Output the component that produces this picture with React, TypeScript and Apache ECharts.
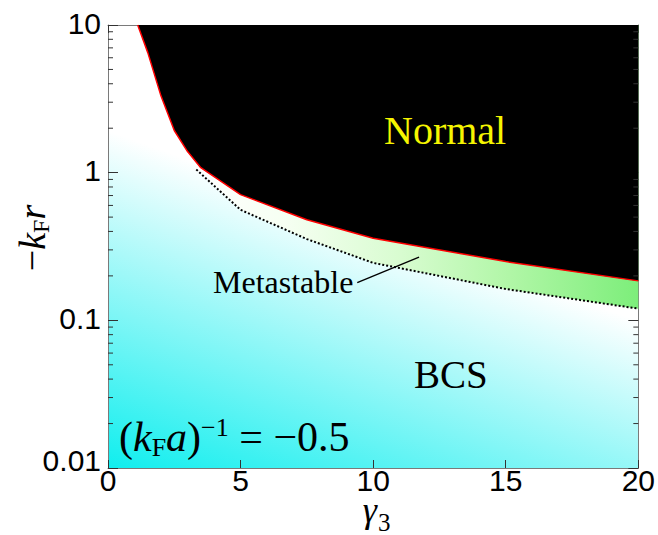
import React, { useEffect, useRef } from 'react';
import * as echarts from 'echarts';

// Phase boundary (Normal / metastable upper edge, red line)
const normalX = [1.12, 1.5, 2, 2.5, 3, 3.5, 5, 7.5, 10, 15, 20];
const normalY = [10, 6.5, 3.3, 1.93, 1.39, 1.08, 0.71, 0.48, 0.36, 0.25, 0.185];
// Metastable lower edge (dotted line)
const metaX = [3.33, 5, 7.5, 10, 15, 20];
const metaY = [1.05, 0.56, 0.355, 0.245, 0.163, 0.12];
// Leader line for "Metastable" label (data coords)
const leaderX = [9.4, 11.73];
const leaderY = [0.18, 0.268];
// Axis ticks
const xTicks = [0, 5, 10, 15, 20];
const yTickLabels = ['0.01', '0.1', '1', '10'];
const decades = [0.01, 0.1, 1];
const minorMultipliers = [2, 3, 4, 5, 6, 7, 8, 9];

const SERIF = '"Liberation Serif", "Times New Roman", serif';
const SANS = '"Liberation Sans", Arial, sans-serif';

export default function App() {
  const ref = useRef<HTMLDivElement>(null);
  useEffect(() => {
    if (!ref.current) return;
    const chart = echarts.init(ref.current, null, { renderer: 'svg' });
    const normalData = normalX.map((x, i) => [x, normalY[i]]);
    const metaData = metaX.map((x, i) => [x, metaY[i]]);
    const minorData: number[][] = [];
    decades.forEach((d) => minorMultipliers.forEach((m) => minorData.push([0, d * m])));

    const labelFor = (v: number) => {
      const s = yTickLabels.find((t) => Math.abs(parseFloat(t) - v) < 1e-9 * Math.max(1, v) + 1e-12);
      if (!s) return '';
      if (s === yTickLabels[0]) return '{low|' + s + '}';
      return '{n|' + s + '}';
    };

    const axisLineStyle = { color: '#7a7a7a', width: 1 };
    const tickStyle = { color: '#333', width: 1 };

    const option: any = {
      animation: false,
      backgroundColor: '#fff',
      grid: {
        left: 108,
        top: 25,
        right: 18,
        bottom: 67,
        show: true,
        borderWidth: 0,
        backgroundColor: new echarts.graphic.LinearGradient(
          108, 468, 215, 169,
          [
            { offset: 0, color: '#10eeee' },
            { offset: 1, color: '#ffffff' },
          ],
          true
        ),
      },
      xAxis: [
        {
          type: 'value',
          min: xTicks[0],
          max: xTicks[xTicks.length - 1],
          interval: 5,
          position: 'bottom',
          axisLine: { show: true, onZero: false, lineStyle: axisLineStyle },
          axisTick: { show: true, inside: true, length: 8, lineStyle: tickStyle },
          axisLabel: { fontFamily: SANS, fontSize: 30, lineHeight: 24, color: '#000', margin: 0 },
          splitLine: { show: false },
        },
        {
          type: 'value',
          min: xTicks[0],
          max: xTicks[xTicks.length - 1],
          interval: 5,
          position: 'top',
          axisLine: { show: true, onZero: false, lineStyle: axisLineStyle },
          axisTick: { show: true, inside: true, length: 8, lineStyle: tickStyle },
          axisLabel: { show: false },
          splitLine: { show: false },
        },
      ],
      yAxis: [
        {
          type: 'log',
          logBase: 10,
          min: 0.01,
          max: 10,
          position: 'left',
          axisLine: { show: true, onZero: false, lineStyle: axisLineStyle },
          axisTick: { show: true, inside: true, length: 10, lineStyle: tickStyle },
          axisLabel: {
            fontFamily: SANS,
            fontSize: 30,
            color: '#000',
            margin: 7,
            formatter: (v: number) => labelFor(v),
            rich: {
              n: { fontFamily: SANS, fontSize: 30, color: '#000', padding: [0, 0, 4, 0] },
              low: { fontFamily: SANS, fontSize: 30, color: '#000', padding: [0, 0, 16, 0] },
            },
          },
          splitLine: { show: false },
        },
        {
          type: 'log',
          logBase: 10,
          min: 0.01,
          max: 10,
          position: 'right',
          axisLine: { show: true, onZero: false, lineStyle: axisLineStyle },
          axisTick: { show: true, inside: true, length: 10, lineStyle: tickStyle },
          axisLabel: { show: false },
          splitLine: { show: false },
        },
      ],
      series: [
        {
          type: 'line',
          name: 'metastable',
          data: metaData,
          symbol: 'none',
          lineStyle: { color: '#000', width: 2, type: [2, 2] },
          areaStyle: {
            origin: 'end',
            opacity: 1,
            color: new echarts.graphic.LinearGradient(
              197, 0, 640, 0,
              [
                { offset: 0, color: '#ffffff' },
                { offset: 0.2, color: '#f6fff2' },
                { offset: 0.46, color: '#d8fcd0' },
                { offset: 0.71, color: '#b0f6a6' },
                { offset: 1, color: '#7cee7a' },
              ],
              true
            ),
          },
          markLine: {
            silent: true,
            symbol: ['none', 'none'],
            label: { show: false },
            lineStyle: { color: '#000', width: 1.4, type: 'solid' },
            data: [
              [
                { coord: [leaderX[0], leaderY[0]] },
                { coord: [leaderX[1], leaderY[1]] },
              ],
            ],
          },
          z: 2,
        },
        {
          type: 'line',
          name: 'normal',
          data: normalData,
          symbol: 'none',
          lineStyle: { color: '#ff0000', width: 1.5 },
          areaStyle: { origin: 'end', color: '#000', opacity: 1 },
          z: 3,
        },
        {
          type: 'custom',
          name: 'minorTicks',
          silent: true,
          data: minorData,
          z: 5,
          renderItem: (params: any, api: any) => {
            const v = api.value(1);
            const p = api.coord([0, v]);
            const cs = params.coordSys;
            return {
              type: 'group',
              children: [
                { type: 'line', shape: { x1: cs.x, y1: p[1], x2: cs.x + 5, y2: p[1] }, style: { stroke: '#333', lineWidth: 1 } },
                { type: 'line', shape: { x1: cs.x + cs.width, y1: p[1], x2: cs.x + cs.width - 5, y2: p[1] }, style: { stroke: '#333', lineWidth: 1 } },
              ],
            };
          },
        },
      ],
      graphic: [
        {
          type: 'text',
          x: 384,
          y: 130,
          z: 100,
          style: { text: 'Normal', fontFamily: SERIF, fontSize: 40, fill: '#f5f500', align: 'left', verticalAlign: 'middle' },
        },
        {
          type: 'text',
          x: 414,
          y: 374,
          z: 100,
          style: { text: 'BCS', fontFamily: SERIF, fontSize: 39, fill: '#000', align: 'left', verticalAlign: 'middle' },
        },
        {
          type: 'text',
          x: 213,
          y: 282,
          z: 100,
          style: { text: 'Metastable', fontFamily: SERIF, fontSize: 32, fill: '#000', align: 'left', verticalAlign: 'middle' },
        },
        {
          type: 'text',
          x: 119,
          y: 437,
          z: 100,
          style: {
            text: '{p|(}{i|k}{sub|F}{i|a}{p|)}{sup|−1}{p| = −0.5}',
            align: 'left',
            verticalAlign: 'middle',
            rich: {
              p: { fontFamily: SERIF, fontSize: 42, lineHeight: 46, fill: '#000' },
              i: { fontFamily: SERIF, fontSize: 42, lineHeight: 46, fontStyle: 'italic', fill: '#000' },
              sub: { fontFamily: SERIF, fontSize: 26, lineHeight: 24, verticalAlign: 'bottom', fill: '#000' },
              sup: { fontFamily: SERIF, fontSize: 26, lineHeight: 22, verticalAlign: 'top', fill: '#000' },
            },
          },
        },
        {
          type: 'text',
          x: 32,
          y: 238,
          rotation: Math.PI / 2,
          z: 100,
          style: {
            text: '{p|−}{i|k}{sub|F}{i|r}',
            align: 'center',
            verticalAlign: 'middle',
            rich: {
              p: { fontFamily: SERIF, fontSize: 38, lineHeight: 42, fill: '#000' },
              i: { fontFamily: SERIF, fontSize: 38, lineHeight: 42, fontStyle: 'italic', fill: '#000' },
              sub: { fontFamily: SERIF, fontSize: 24, lineHeight: 24, verticalAlign: 'bottom', fill: '#000' },
            },
          },
        },
        {
          type: 'text',
          x: 377,
          y: 510,
          z: 100,
          style: {
            text: 'γ',
            fontFamily: SERIF,
            fontSize: 36,
            fontStyle: 'italic',
            lineHeight: 20,
            fill: '#000',
            align: 'right',
            verticalAlign: 'middle',
          },
        },
        {
          type: 'text',
          x: 378,
          y: 522,
          z: 100,
          style: {
            text: '3',
            fontFamily: SERIF,
            fontSize: 25,
            lineHeight: 18,
            fill: '#000',
            align: 'left',
            verticalAlign: 'middle',
          },
        },
      ],
    };
    chart.setOption(option);
    return () => chart.dispose();
  }, []);
  return (
    <div
      ref={ref}
      style={{ position: 'fixed', left: 0, top: 0, width: 658, height: 535, background: '#fff' }}
    />
  );
}
